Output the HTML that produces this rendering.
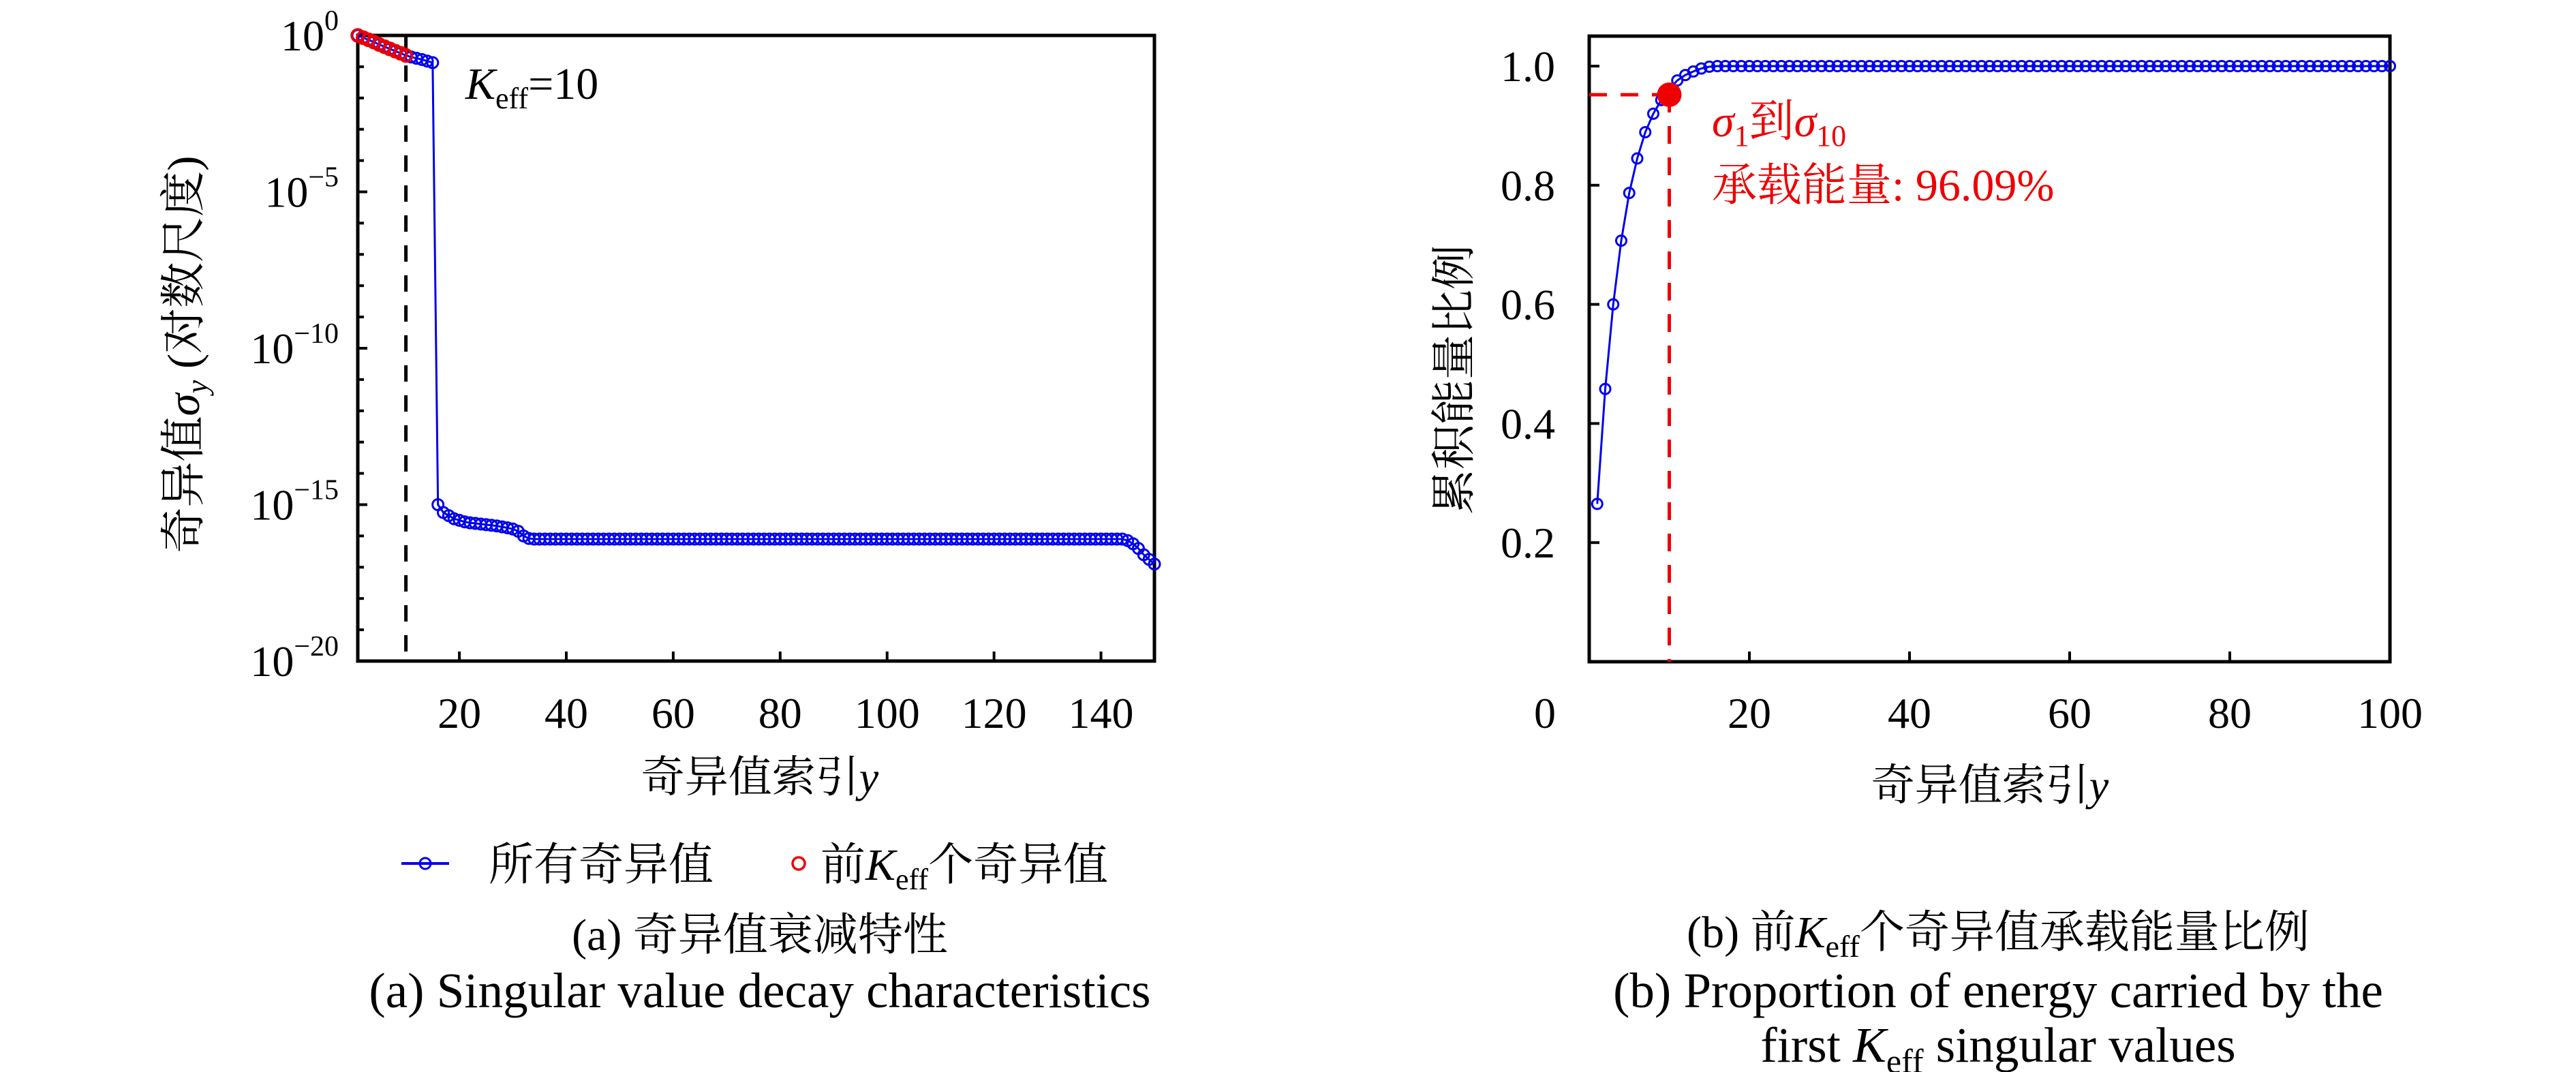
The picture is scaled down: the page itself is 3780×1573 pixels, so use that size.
<!DOCTYPE html>
<html><head><meta charset="utf-8"><style>
html,body{margin:0;padding:0;background:#fff;}
svg{display:block;font-family:"Liberation Serif","Noto Serif CJK SC","Noto Sans CJK SC",serif;}
</style></head><body>
<svg id="fig" width="3780" height="1573" viewBox="0 0 3780 1573" xmlns="http://www.w3.org/2000/svg">
<g id="left"></g>
<g id="right"></g>
</svg>
<script>
// ---- Left chart data (log10 of singular values, index 1..150) ----
const leftKeff = 10;
const leftLogSigma = [
 0,-0.07,-0.14,-0.21,-0.29,-0.36,-0.43,-0.5,-0.57,-0.64,
 -0.69,-0.73,-0.77,-0.82,-0.87,-15.0,-15.25,-15.35,-15.45,-15.5,
 -15.55,-15.58,-15.6,-15.62,-15.64,-15.66,-15.68,-15.71,-15.74,-15.78,
 -15.85,-16.0,-16.08,-16.1,-16.1,-16.1,-16.1,-16.1,-16.1,-16.1,
 -16.1,-16.1,-16.1,-16.1,-16.1,-16.1,-16.1,-16.1,-16.1,-16.1,
 -16.1,-16.1,-16.1,-16.1,-16.1,-16.1,-16.1,-16.1,-16.1,-16.1,
 -16.1,-16.1,-16.1,-16.1,-16.1,-16.1,-16.1,-16.1,-16.1,-16.1,
 -16.1,-16.1,-16.1,-16.1,-16.1,-16.1,-16.1,-16.1,-16.1,-16.1,
 -16.1,-16.1,-16.1,-16.1,-16.1,-16.1,-16.1,-16.1,-16.1,-16.1,
 -16.1,-16.1,-16.1,-16.1,-16.1,-16.1,-16.1,-16.1,-16.1,-16.1,
 -16.1,-16.1,-16.1,-16.1,-16.1,-16.1,-16.1,-16.1,-16.1,-16.1,
 -16.1,-16.1,-16.1,-16.1,-16.1,-16.1,-16.1,-16.1,-16.1,-16.1,
 -16.1,-16.1,-16.1,-16.1,-16.1,-16.1,-16.1,-16.1,-16.1,-16.1,
 -16.1,-16.1,-16.1,-16.1,-16.1,-16.1,-16.1,-16.1,-16.1,-16.1,
 -16.1,-16.1,-16.1,-16.1,-16.15,-16.25,-16.4,-16.6,-16.75,-16.9
];
const leftXTicks = [20,40,60,80,100,120,140];
const leftYTickExps = [0,-5,-10,-15,-20];
// ---- Right chart data (cumulative energy ratio, index 1..100) ----
const rightRatio = [
 0.265,0.458,0.600,0.707,0.787,0.845,0.889,0.920,0.943,0.961,
 0.976,0.985,0.991,0.996,0.999,1,1,1,1,1,
 1,1,1,1,1,1,1,1,1,1, 1,1,1,1,1,1,1,1,1,1,
 1,1,1,1,1,1,1,1,1,1, 1,1,1,1,1,1,1,1,1,1,
 1,1,1,1,1,1,1,1,1,1, 1,1,1,1,1,1,1,1,1,1,
 1,1,1,1,1,1,1,1,1,1, 1,1,1,1,1,1,1,1,1,1
];
const rightHighlightX = 10;
const rightHighlightY = 0.952;
const rightXTicks = [20,40,60,80,100];
const rightYTicks = [0.2,0.4,0.6,0.8,1.0];
const rightYTickLabels = ["0.2","0.4","0.6","0.8","1.0"];

const NS="http://www.w3.org/2000/svg";
function mk(parent,tag,attrs,text){const e=document.createElementNS(NS,tag);for(const k in attrs)e.setAttribute(k,attrs[k]);if(text!==undefined)e.textContent=text;parent.appendChild(e);return e;}

// ================= LEFT =================
const L=document.getElementById('left');
const lx0=525,lx1=1694,ly0=52,ly1=970;
const lxs=v=>lx0+(v-1)*(lx1-lx0)/149;
const lys=e=>ly0+(0-e)*(ly1-ly0)/20;
for(let d=0;d>=-20;d--){
  const t=mk(L,'line',{x1:lx0,x2:lx0+(d%5===0?14:9),y1:lys(d),y2:lys(d),stroke:'#000','stroke-width':4});
  
  
}
leftXTicks.forEach(v=>{
  const t=mk(L,'line',{x1:lxs(v),x2:lxs(v),y1:ly1,y2:ly1-14,stroke:'#000','stroke-width':4});
  
  
  const lb=mk(L,'text',{x:lxs(v),y:1068,'font-size':64,'text-anchor':'middle'},String(v));
  
  
});
leftYTickExps.forEach(e=>{
  const tx=mk(L,'text',{x:497,y:lys(e)+22,'font-size':64,'text-anchor':'end'});
  
  
  mk(tx,'tspan',{},'10');
  mk(tx,'tspan',{'font-size':42,dy:-30},e===0?'0':'\u2212'+(-e));
});
const lf=mk(L,'rect',{x:lx0,y:ly0,width:lx1-lx0,height:ly1-ly0,fill:'none',stroke:'#000','stroke-width':5});


const kd=mk(L,'line',{x1:lxs(leftKeff),x2:lxs(leftKeff),y1:ly0,y2:ly1,stroke:'#000','stroke-width':5,'stroke-dasharray':'24,20'});


const lpts=leftLogSigma.map((e,i)=>lxs(i+1)+','+lys(e)).join(' ');
const ll=mk(L,'polyline',{points:lpts,fill:'none',stroke:'#0000ee','stroke-width':3});


leftLogSigma.forEach((e,i)=>{
  const c=mk(L,'circle',{cx:lxs(i+1),cy:lys(e),r:8,fill:'none',stroke:'#0000ee','stroke-width':3});
  
  
});
leftLogSigma.slice(0,leftKeff).forEach((e,i)=>{
  const c=mk(L,'circle',{cx:lxs(i+1),cy:lys(e),r:9,fill:'none',stroke:'#ee0000','stroke-width':3.5});
  
  
});
const kl=mk(L,'text',{x:683,y:145,'font-size':66});


mk(kl,'tspan',{'font-style':'italic'},'K');
mk(kl,'tspan',{'font-size':44,dy:14},'eff');
mk(kl,'tspan',{dy:-14},'=10');
const yl=mk(L,'text',{x:0,y:0,'font-size':67,'text-anchor':'middle',transform:'translate(292,520) rotate(-90)'});


mk(yl,'tspan',{},'奇异值');
mk(yl,'tspan',{'font-style':'italic'},'σ');
mk(yl,'tspan',{'font-size':44,dy:12,'font-style':'italic'},'y');
mk(yl,'tspan',{dy:-12},' (对数尺度)');
const xl=mk(L,'text',{x:1115,y:1162,'font-size':64,'text-anchor':'middle'});


mk(xl,'tspan',{},'奇异值索引');
mk(xl,'tspan',{'font-style':'italic'},'y');
const lg=mk(L,'g',{});


const le1=mk(lg,'g',{});


mk(le1,'line',{x1:589,x2:659,y1:1267,y2:1267,stroke:'#0000ee','stroke-width':4});
mk(le1,'circle',{cx:624,cy:1267,r:8,fill:'none',stroke:'#0000ee','stroke-width':3});
mk(le1,'text',{x:717,y:1291,'font-size':66},'所有奇异值');
const le2=mk(lg,'g',{});


mk(le2,'circle',{cx:1172,cy:1267,r:9,fill:'none',stroke:'#ee0000','stroke-width':3.5});
const lt2=mk(le2,'text',{x:1204,y:1291,'font-size':66});
mk(lt2,'tspan',{},'前');
mk(lt2,'tspan',{'font-style':'italic'},'K');
mk(lt2,'tspan',{'font-size':44,dy:14},'eff');
mk(lt2,'tspan',{dy:-14},'个奇异值');
const c1=mk(L,'text',{x:1115,y:1394,'font-size':66,'text-anchor':'middle'},'(a) 奇异值衰减特性');


const c2=mk(L,'text',{x:1115,y:1478,'font-size':73,'text-anchor':'middle'},'(a) Singular value decay characteristics');



// ================= RIGHT =================
const R=document.getElementById('right');
const rx0=2332,rx1=3507,ry0=53,ry1=971;
const rxs=v=>rx0+v*(rx1-rx0)/100;
const rys=v=>ry1-v*874;
rightYTicks.forEach((v,i)=>{
  const t=mk(R,'line',{x1:rx0,x2:rx0+15,y1:rys(v),y2:rys(v),stroke:'#000','stroke-width':4});
  
  
  const lb=mk(R,'text',{x:2282,y:rys(v)+22,'font-size':64,'text-anchor':'end'},rightYTickLabels[i]);
  
  
});
rightXTicks.forEach(v=>{
  const t=mk(R,'line',{x1:rxs(v),x2:rxs(v),y1:ry1,y2:ry1-15,stroke:'#000','stroke-width':4});
  
  
  const lb=mk(R,'text',{x:rxs(v),y:1068,'font-size':64,'text-anchor':'middle'},String(v));
  
  
});
const z=mk(R,'text',{x:2267,y:1068,'font-size':64,'text-anchor':'middle'},'0');


const rf=mk(R,'rect',{x:rx0,y:ry0,width:rx1-rx0,height:ry1-ry0,fill:'none',stroke:'#000','stroke-width':5});


const hv=mk(R,'line',{x1:rxs(rightHighlightX),x2:rxs(rightHighlightX),y1:rys(rightHighlightY),y2:ry1,stroke:'#ee0000','stroke-width':5,'stroke-dasharray':'26,20'});


const hh=mk(R,'line',{x1:rx0,x2:rxs(rightHighlightX),y1:rys(rightHighlightY),y2:rys(rightHighlightY),stroke:'#ee0000','stroke-width':5,'stroke-dasharray':'26,20'});


const rpts=rightRatio.map((v,i)=>rxs(i+1)+','+rys(v)).join(' ');
const rl=mk(R,'polyline',{points:rpts,fill:'none',stroke:'#0000ee','stroke-width':3});


rightRatio.forEach((v,i)=>{
  const c=mk(R,'circle',{cx:rxs(i+1),cy:rys(v),r:7.5,fill:'none',stroke:'#0000ee','stroke-width':3});
  
  
});
const hd=mk(R,'circle',{cx:rxs(rightHighlightX),cy:rys(rightHighlightY),r:18,fill:'#ee0000'});


const a1=mk(R,'text',{x:2512,y:200,'font-size':66,fill:'#ee0000'});


mk(a1,'tspan',{'font-style':'italic'},'σ');
mk(a1,'tspan',{'font-size':44,dy:14},'1');
mk(a1,'tspan',{dy:-14},'到');
mk(a1,'tspan',{'font-style':'italic'},'σ');
mk(a1,'tspan',{'font-size':44,dy:14},'10');
const a2=mk(R,'text',{x:2512,y:294,'font-size':66,fill:'#ee0000'},'承载能量: 96.09%');


const ryl=mk(R,'text',{x:0,y:0,'font-size':66,'text-anchor':'middle',transform:'translate(2156,557) rotate(-90)'},'累积能量比例');


const rxl=mk(R,'text',{x:2920,y:1174,'font-size':64,'text-anchor':'middle'});


mk(rxl,'tspan',{},'奇异值索引');
mk(rxl,'tspan',{'font-style':'italic'},'y');
const rc1=mk(R,'text',{x:2932,y:1390,'font-size':66,'text-anchor':'middle'});


mk(rc1,'tspan',{},'(b) 前');
mk(rc1,'tspan',{'font-style':'italic'},'K');
mk(rc1,'tspan',{'font-size':46,dy:14},'eff');
mk(rc1,'tspan',{dy:-14},'个奇异值承载能量比例');
const rc2=mk(R,'text',{x:2932,y:1478,'font-size':73,'text-anchor':'middle'},'(b) Proportion of energy carried by the');


const rc3=mk(R,'text',{x:2932,y:1558,'font-size':73,'text-anchor':'middle'});


mk(rc3,'tspan',{},'first ');
mk(rc3,'tspan',{'font-style':'italic'},'K');
mk(rc3,'tspan',{'font-size':50,dy:16},'eff');
mk(rc3,'tspan',{dy:-16},' singular values');
</script>
</body></html>
